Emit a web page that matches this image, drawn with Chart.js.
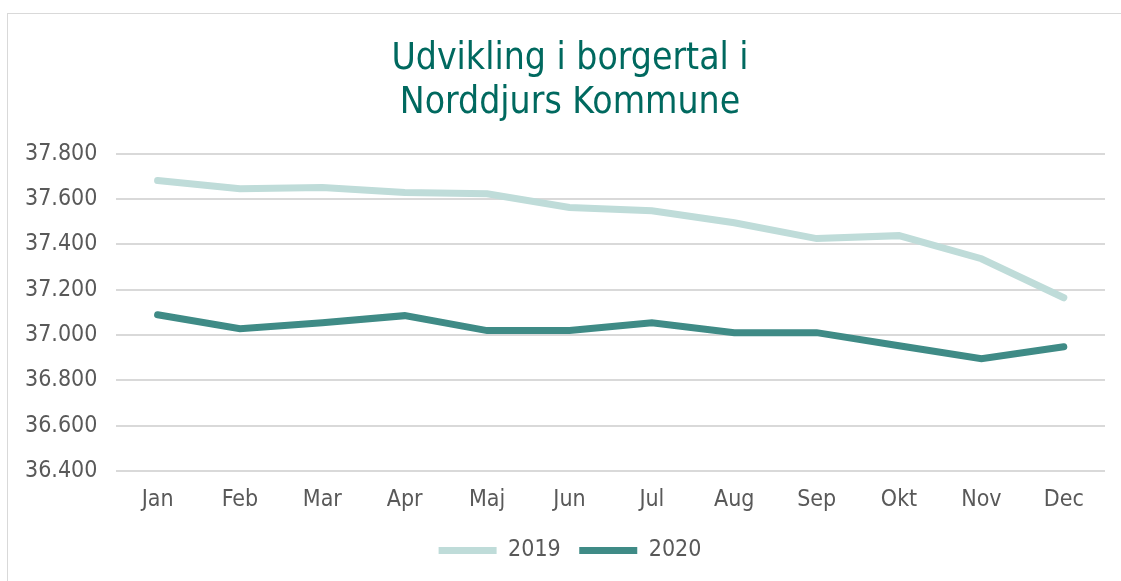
<!DOCTYPE html>
<html>
<head>
<meta charset="utf-8">
<script src="https://cdn.jsdelivr.net/npm/chart.js@4"></script>
<style>
  html, body { margin: 0; padding: 0; background: #fff; overflow: hidden; }
  .frame {
    position: absolute; left: 7px; top: 13px; width: 1200px; height: 650px;
    border: 1px solid #d9d9d9; box-sizing: border-box;
  }
  .wrap { position: absolute; left: 0; top: 0; width: 1121px; height: 581px; }
</style>
</head>
<body>
<div class="frame"></div>
<div class="wrap"><canvas id="borgerChart"></canvas></div>
<script>
const months = ["Jan", "Feb", "Mar", "Apr", "Maj", "Jun", "Jul", "Aug", "Sep", "Okt", "Nov", "Dec"];
const values2019 = [37681, 37645, 37650, 37628, 37623, 37562, 37548, 37495, 37425, 37438, 37336, 37164];
const values2020 = [37089, 37027, 37054, 37085, 37019, 37019, 37054, 37010, 37010, 36952, 36895, 36948];
const yMin = 36400;
const yMax = 37800;
const yStep = 200;

const font = "'DejaVu Sans Condensed', 'DejaVu Sans', sans-serif";

// danish thousands separator
function fmt(v) {
  return String(v).replace(/\B(?=(\d{3})+(?!\d))/g, ".");
}

// title + legend sit centred on the whole frame, not the padded box
const centreShift = {
  id: "centreShift",
  afterLayout(chart) {
    const dx = 14.5;
    [chart.titleBlock, chart.legend].forEach((b) => {
      if (b) {
        b.left += dx;
        b.right += dx;
      }
    });
  },
};

new Chart(document.getElementById("borgerChart"), {
  type: "line",
  data: {
    labels: months,
    datasets: [
      {
        label: "2019",
        data: values2019,
        borderColor: "#bfdcd9",
        backgroundColor: "#bfdcd9",
        borderWidth: 7,
        pointRadius: 0,
        pointStyle: "line",
        borderCapStyle: "round",
        tension: 0,
      },
      {
        label: "2020",
        data: values2020,
        borderColor: "#3f8b86",
        backgroundColor: "#3f8b86",
        borderWidth: 7,
        pointRadius: 0,
        pointStyle: "line",
        borderCapStyle: "round",
        tension: 0,
      },
    ],
  },
  options: {
    responsive: true,
    maintainAspectRatio: false,
    animation: false,
    layout: {
      padding: { left: 6, right: 16, top: 38, bottom: 9 },
    },
    plugins: {
      title: {
        display: true,
        text: ["Udvikling i borgertal i", "Norddjurs Kommune"],
        color: "#00695f",
        font: { family: font, size: 37, weight: "normal", lineHeight: 1.17 },
        padding: { top: 0, bottom: 29 },
      },
      legend: {
        display: true,
        position: "bottom",
        labels: {
          color: "#595959",
          font: { family: font, size: 23 },
          usePointStyle: true,
          pointStyleWidth: 58,
          padding: 18.5,
        },
      },
      tooltip: { enabled: false },
    },
    scales: {
      x: {
        offset: true,
        grid: { display: false },
        border: { display: false },
        ticks: {
          color: "#595959",
          font: { family: font, size: 23 },
          padding: 7,
          maxRotation: 0,
        },
      },
      y: {
        min: yMin,
        max: yMax,
        grid: { color: "#d9d9d9", lineWidth: 2, drawTicks: false },
        border: { display: false },
        ticks: {
          stepSize: yStep,
          color: "#595959",
          font: { family: font, size: 23 },
          padding: 19,
          callback: function (value) {
            return fmt(value);
          },
        },
      },
    },
  },
  plugins: [centreShift],
});
</script>
</body>
</html>
